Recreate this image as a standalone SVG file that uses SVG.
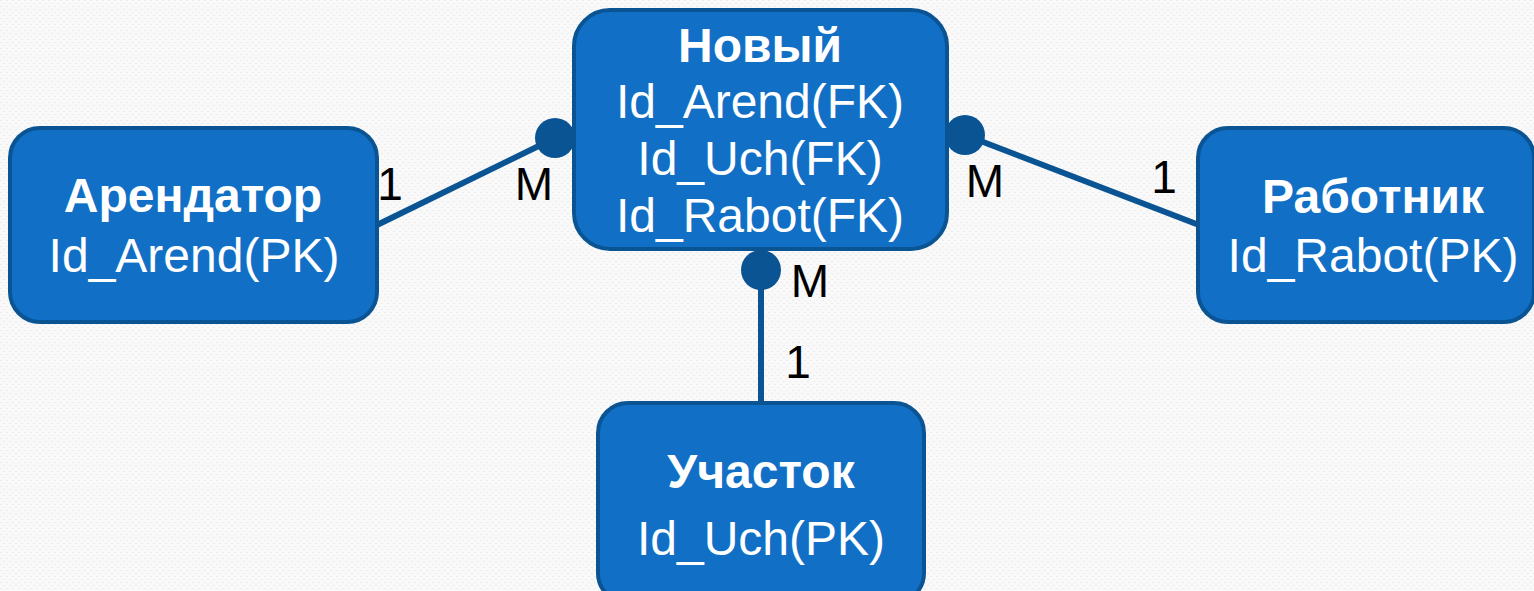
<svg xmlns="http://www.w3.org/2000/svg" width="1534" height="591" viewBox="0 0 1534 591">
  <defs>
    <pattern id="bg" width="6" height="6" patternUnits="userSpaceOnUse">
      <rect width="6" height="6" fill="#f9f9f9"/>
      <rect x="0" y="0" width="2" height="1" fill="#ececec"/>
      <rect x="3" y="3" width="2" height="1" fill="#ececec"/>
    </pattern>
    <style>
      .box { fill: #1170c6; stroke: #0b5494; stroke-width: 4; }
      .title { font-family: "Liberation Sans", Arial, sans-serif; font-size: 48px; font-weight: bold; fill: #ffffff; text-anchor: middle; }
      .attr { font-family: "Liberation Sans", Arial, sans-serif; font-size: 48px; fill: #ffffff; text-anchor: middle; }
      .conn { stroke: #0b5494; stroke-width: 6; fill: none; }
      .dot { fill: #0b5494; }
      .lbl { font-family: "Liberation Sans", Arial, sans-serif; font-size: 46px; fill: #000000; text-anchor: middle; }
    </style>
  </defs>
  <rect width="1534" height="591" fill="url(#bg)"/>

  <g id="connectors">
    <line class="conn" x1="377" y1="225" x2="555" y2="138"/>
    <circle class="dot" cx="555" cy="138" r="20"/>
    <line class="conn" x1="965" y1="135" x2="1199" y2="225"/>
    <circle class="dot" cx="965" cy="135" r="20"/>
    <line class="conn" x1="761" y1="270" x2="761" y2="404"/>
    <circle class="dot" cx="761" cy="270" r="20"/>
    <text class="lbl" x="390" y="200">1</text>
    <text class="lbl" x="534" y="200">M</text>
    <text class="lbl" x="985" y="197">M</text>
    <text class="lbl" x="1164" y="193">1</text>
    <text class="lbl" x="810" y="297">M</text>
    <text class="lbl" x="798" y="378">1</text>
  </g>

  <g id="arendator">
    <rect class="box" x="10" y="128" width="367" height="194" rx="30" ry="30"/>
    <text class="title" x="193" y="212">Арендатор</text>
    <text class="attr" x="194" y="272">Id_Arend(PK)</text>
  </g>

  <g id="novyi">
    <rect class="box" x="574" y="10" width="373" height="239" rx="36" ry="36"/>
    <text class="title" x="760" y="62">Новый</text>
    <text class="attr" x="760" y="118">Id_Arend(FK)</text>
    <text class="attr" x="760" y="175">Id_Uch(FK)</text>
    <text class="attr" x="760" y="232">Id_Rabot(FK)</text>
  </g>

  <g id="rabotnik">
    <rect class="box" x="1198" y="128" width="336" height="194" rx="30" ry="30"/>
    <text class="title" x="1373" y="213">Работник</text>
    <text class="attr" x="1373" y="272">Id_Rabot(PK)</text>
  </g>

  <g id="uchastok">
    <rect class="box" x="598" y="403" width="326" height="200" rx="30" ry="30"/>
    <text class="title" x="761" y="488">Участок</text>
    <text class="attr" x="761" y="555">Id_Uch(PK)</text>
  </g>
</svg>
